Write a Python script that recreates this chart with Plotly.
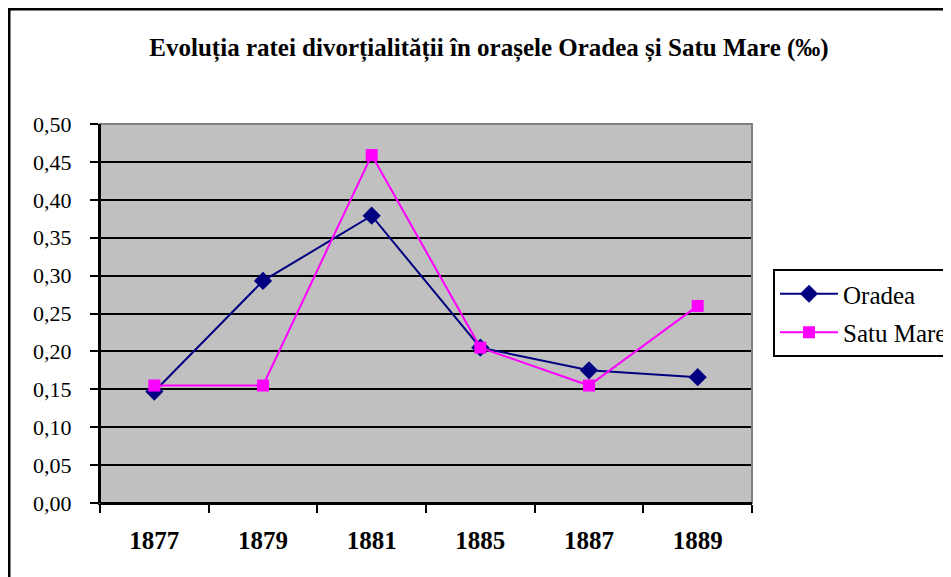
import plotly.graph_objects as go

years = ["1877", "1879", "1881", "1885", "1887", "1889"]
oradea = [0.147, 0.293, 0.379, 0.205, 0.175, 0.166]
satu_mare = [0.155, 0.155, 0.459, 0.205, 0.155, 0.260]
y_ticks = [0.0, 0.05, 0.10, 0.15, 0.20, 0.25, 0.30, 0.35, 0.40, 0.45, 0.50]

OFF = 8  # page body margin
W, H = 951 - OFF, 577 - OFF
L, R, T, B = 100 - OFF, 752 - OFF, 124 - OFF, 503 - OFF
pw, ph = R - L, B - T

font = "Times New Roman"

fig = go.Figure()
fig.add_trace(go.Scatter(
    x=years, y=oradea, name="Oradea", mode="lines+markers",
    line=dict(color="#000080", width=2),
    marker=dict(symbol="diamond", size=14, color="#000080"),
    legendgroup="a",
))
fig.add_trace(go.Scatter(
    x=years, y=satu_mare, name="Satu Mare", mode="lines+markers",
    line=dict(color="#FF00FF", width=2),
    marker=dict(symbol="square", size=12, color="#FF00FF"),
    legendgroup="b",
))

fig.update_layout(
    width=W, height=H,
    margin=dict(l=L, r=W - R, t=T, b=H - B, autoexpand=False),
    paper_bgcolor="white", plot_bgcolor="#C0C0C0",
    separators=",.",
    font=dict(family=font, size=22, color="black"),
    title=dict(
        text="<b>Evoluția ratei divorțialității în orașele Oradea și Satu Mare (‰)</b>",
        font=dict(family=font, size=25, color="black"),
        xref="container", yref="container", x=(489 - OFF) / W, xanchor="center",
        y=1 - (47 - OFF) / H, yanchor="middle",
    ),
    legend=dict(
        x=(773 - 100) / pw, xanchor="left", y=1 - (269 - 124) / ph, yanchor="top",
        bordercolor="black", borderwidth=2, bgcolor="white",
        font=dict(family=font, size=25, color="black"),
        tracegroupgap=3, itemwidth=58,
    ),
    xaxis=dict(
        type="category", range=[-0.5, 5.5], tickson="boundaries",
        tickvals=years, ticktext=["<b>" + y + "</b>" for y in years],
        ticks="outside", ticklen=8, tickwidth=2, tickcolor="black",
        showline=True, linecolor="black", linewidth=2,
        showgrid=False, zeroline=False,
        tickfont=dict(family=font, size=25, color="black"),
        ticklabelstandoff=14,
    ),
    yaxis=dict(
        range=[0, 0.5], tickvals=y_ticks, tickformat=".2f",
        ticks="outside", ticklen=8, tickwidth=2, tickcolor="black",
        showline=True, linecolor="black", linewidth=2,
        showgrid=True, gridcolor="black", gridwidth=2, zeroline=False,
        tickfont=dict(family=font, size=22, color="black"),
        ticklabelstandoff=14,
    ),
    shapes=[
        dict(type="rect", xref="paper", yref="paper", x0=0, x1=1, y0=0, y1=1,
             line=dict(color="#808080", width=2), layer="above"),
        dict(type="line", xref="paper", yref="paper", x0=0, x1=0, y0=0, y1=1,
             line=dict(color="black", width=2), layer="above"),
        dict(type="line", xref="paper", yref="paper", x0=0, x1=1, y0=0, y1=0,
             line=dict(color="black", width=2), layer="above"),
        dict(type="rect", xref="paper", yref="paper",
             x0=(9 - 100) / pw, x1=(951 + 20 - 100) / pw,
             y0=-(577 + 20 - 503) / ph, y1=1 + (124 - 9) / ph,
             line=dict(color="black", width=3), layer="above"),
    ],
    showlegend=True,
)

fig.write_html("out.html")
